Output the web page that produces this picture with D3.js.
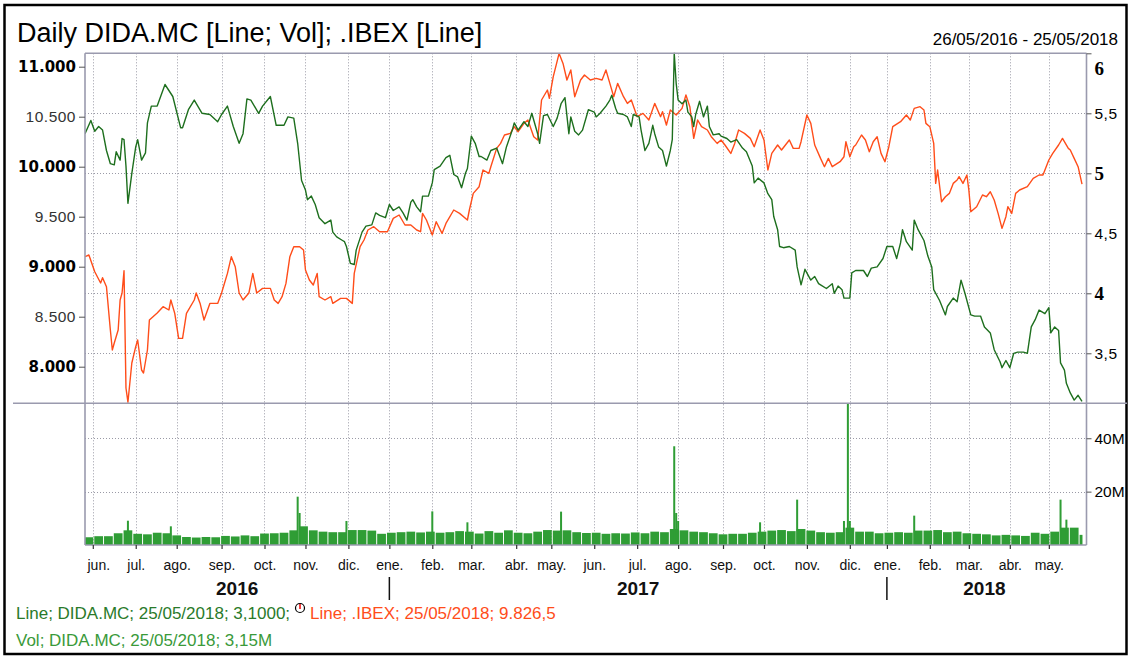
<!DOCTYPE html>
<html>
<head>
<meta charset="utf-8">
<script src="https://cdn.jsdelivr.net/npm/d3@7"></script>
<style>
  body { margin: 0; background: #fff; }
  svg { display: block; }
</style>
</head>
<body>
<svg id="chart"></svg>
<script>
// ---- data (x = trading session number counted from 26/05/2016) ----
const startDate = new Date(2016, 4, 26);
const endDate = new Date(2018, 4, 25);
const holidays = ["2016-12-26", "2017-04-14", "2017-04-17", "2017-05-01", "2017-12-25",
  "2017-12-26", "2018-01-01", "2018-03-30", "2018-04-02", "2018-05-01"];

const monthNames = ["ene.", "feb.", "mar.", "abr.", "may.", "jun.", "jul.", "ago.", "sep.", "oct.", "nov.", "dic."];

// .IBEX close (left axis)
const ibex = [
  [0, 9100], [2, 9117], [5, 8950], [8, 8837], [9, 8890], [11, 8800], [13, 8367], [14, 8167],
  [15, 8237], [17, 8367], [18, 8667], [19, 8737], [20, 8960], [21, 7787], [22, 7645], [24, 8037],
  [26, 8200], [27, 8267], [29, 7967], [30, 7937], [32, 8167], [33, 8467], [37, 8537], [40, 8600],
  [43, 8567], [44, 8667], [46, 8533], [48, 8283], [50, 8283], [52, 8533], [56, 8667], [57, 8737],
  [59, 8633], [61, 8467], [64, 8633], [68, 8633], [70, 8737], [73, 8933], [75, 9100], [77, 9000],
  [79, 8737], [81, 8667], [84, 8737], [86, 8933], [88, 8737], [91, 8783], [95, 8783], [97, 8667],
  [99, 8633], [101, 8700], [103, 8833], [105, 9100], [107, 9200], [110, 9200], [112, 9167], [113, 8967],
  [115, 8867], [117, 8817], [119, 8933], [120, 8700], [123, 8667], [126, 8700], [127, 8633], [131, 8683],
  [134, 8683], [137, 8633], [138, 8933], [141, 9200], [143, 9267], [145, 9367], [148, 9400], [151, 9350],
  [155, 9350], [158, 9483], [161, 9517], [164, 9417], [167, 9417], [170, 9367], [172, 9350], [173, 9533],
  [175, 9467], [178, 9317], [180, 9450], [183, 9333], [185, 9433], [189, 9567], [192, 9533], [196, 9467],
  [197, 9567], [199, 9733], [202, 9800], [204, 9967], [207, 9933], [208, 10000], [211, 10183], [213, 10233],
  [215, 10317], [218, 10333], [220, 10400], [222, 10350], [225, 10433], [227, 10467], [230, 10300], [232, 10267],
  [234, 10667], [237, 10767], [238, 10683], [240, 10900], [243, 11133], [245, 11033], [247, 10867], [249, 10967],
  [251, 10700], [254, 10867], [256, 10917], [259, 10867], [262, 10883], [265, 10867], [267, 10967], [269, 10833],
  [271, 10700], [273, 10833], [276, 10700], [278, 10633], [280, 10667], [283, 10500], [286, 10533], [289, 10467],
  [292, 10633], [295, 10500], [296, 10550], [298, 10417], [300, 10567], [303, 10517], [306, 10583], [308, 10717],
  [310, 10600], [312, 10283], [314, 10467], [316, 10400], [319, 10367], [321, 10300], [324, 10233], [326, 10267],
  [328, 10217], [331, 10133], [333, 10233], [335, 10367], [338, 10333], [341, 10283], [343, 10200], [346, 10367],
  [348, 10267], [350, 9967], [352, 10133], [355, 10217], [357, 10167], [361, 10267], [363, 10183], [366, 10183],
  [367, 10250], [370, 10517], [372, 10433], [374, 10217], [377, 10083], [379, 10000], [381, 10083], [383, 10000],
  [387, 10050], [389, 10100], [390, 10250], [392, 10100], [394, 10200], [395, 10217], [398, 10317], [400, 10267],
  [402, 10150], [404, 10250], [406, 10300], [408, 10133], [410, 10050], [412, 10200], [414, 10400], [418, 10450],
  [421, 10517], [423, 10467], [425, 10583], [428, 10600], [430, 10567], [431, 10433], [433, 10400], [435, 10233],
  [436, 9833], [437, 9967], [439, 9650], [441, 9700], [443, 9733], [445, 9833], [447, 9867], [448, 9900],
  [450, 9833], [452, 9917], [453, 9767], [454, 9550], [457, 9600], [460, 9717], [462, 9700], [464, 9750],
  [466, 9667], [468, 9533], [470, 9383], [472, 9500], [473, 9600], [475, 9533], [477, 9733], [479, 9767],
  [483, 9800], [486, 9883], [489, 9917], [491, 9917], [494, 10067], [496, 10133], [499, 10217], [501, 10283],
  [504, 10183], [505, 10167], [507, 10083], [509, 10000], [511, 9826.5]
];

// DIDA.MC close (right axis)
const dida = [
  [0, 5.33], [3, 5.44], [5, 5.35], [7, 5.39], [9, 5.36], [11, 5.19], [13, 5.08], [15, 5.07],
  [16, 5.18], [18, 5.11], [19, 5.29], [20, 5.28], [21, 5.06], [22, 4.75], [24, 5.0], [26, 5.22],
  [27, 5.28], [29, 5.11], [31, 5.17], [32, 5.42], [34, 5.56], [37, 5.56], [41, 5.74], [45, 5.64],
  [49, 5.38], [50, 5.38], [53, 5.53], [56, 5.61], [60, 5.5], [64, 5.49], [68, 5.43], [70, 5.49],
  [73, 5.56], [76, 5.39], [79, 5.25], [81, 5.33], [83, 5.62], [85, 5.61], [89, 5.5], [91, 5.56],
  [95, 5.64], [98, 5.4], [102, 5.4], [104, 5.47], [107, 5.46], [109, 5.25], [111, 4.94], [113, 4.86],
  [114, 4.78], [116, 4.81], [118, 4.74], [120, 4.63], [123, 4.58], [126, 4.61], [127, 4.51], [129, 4.47],
  [132, 4.44], [133, 4.43], [134, 4.39], [136, 4.25], [138, 4.24], [139, 4.36], [142, 4.51], [144, 4.56],
  [147, 4.57], [149, 4.67], [151, 4.65], [154, 4.63], [156, 4.74], [158, 4.69], [161, 4.72], [163, 4.67],
  [165, 4.61], [167, 4.76], [168, 4.78], [170, 4.72], [172, 4.68], [173, 4.81], [176, 4.81], [178, 4.92],
  [179, 5.03], [182, 5.06], [185, 5.13], [187, 5.15], [189, 4.99], [191, 4.97], [193, 4.88], [195, 5.0],
  [196, 5.04], [198, 5.31], [200, 5.25], [202, 5.14], [203, 5.14], [206, 5.11], [208, 5.19], [211, 5.21],
  [214, 5.08], [216, 5.22], [219, 5.36], [220, 5.42], [222, 5.36], [225, 5.43], [227, 5.39], [229, 5.5],
  [232, 5.33], [233, 5.25], [235, 5.48], [237, 5.49], [240, 5.39], [242, 5.46], [244, 5.58], [246, 5.63],
  [248, 5.33], [249, 5.47], [251, 5.35], [253, 5.32], [255, 5.36], [258, 5.53], [261, 5.51], [262, 5.47],
  [264, 5.5], [267, 5.56], [269, 5.61], [270, 5.65], [272, 5.54], [273, 5.5], [276, 5.49], [278, 5.47],
  [280, 5.39], [281, 5.49], [284, 5.47], [285, 5.36], [287, 5.19], [289, 5.25], [291, 5.4], [292, 5.33],
  [294, 5.22], [296, 5.19], [298, 5.06], [300, 5.19], [301, 5.28], [302, 6.0], [303, 5.75], [304, 5.61],
  [306, 5.58], [308, 5.61], [309, 5.51], [311, 5.47], [312, 5.39], [313, 5.49], [315, 5.6], [317, 5.47],
  [319, 5.56], [320, 5.39], [322, 5.32], [325, 5.33], [326, 5.31], [329, 5.29], [331, 5.26], [334, 5.28],
  [337, 5.21], [339, 5.18], [342, 5.06], [343, 4.92], [345, 4.96], [348, 4.92], [350, 4.83], [352, 4.78],
  [353, 4.64], [355, 4.53], [356, 4.39], [358, 4.38], [361, 4.39], [364, 4.36], [365, 4.22], [367, 4.07],
  [369, 4.2], [372, 4.11], [374, 4.14], [376, 4.08], [377, 4.07], [380, 4.04], [383, 4.08], [384, 4.0],
  [386, 4.06], [388, 4.03], [389, 3.96], [392, 3.96], [393, 4.17], [395, 4.19], [399, 4.19], [401, 4.14],
  [403, 4.21], [406, 4.22], [409, 4.29], [411, 4.39], [414, 4.39], [416, 4.29], [418, 4.42], [419, 4.53],
  [421, 4.43], [424, 4.36], [425, 4.61], [427, 4.53], [430, 4.44], [432, 4.31], [434, 4.22], [435, 4.03],
  [438, 3.94], [441, 3.82], [442, 3.89], [445, 3.96], [447, 3.93], [449, 4.11], [451, 4.0], [454, 3.82],
  [456, 3.81], [459, 3.81], [461, 3.72], [464, 3.67], [466, 3.53], [469, 3.43], [470, 3.38], [472, 3.44],
  [474, 3.38], [476, 3.5], [478, 3.51], [481, 3.51], [483, 3.5], [485, 3.72], [487, 3.78], [489, 3.86],
  [492, 3.83], [494, 3.88], [495, 3.67], [497, 3.72], [499, 3.69], [500, 3.42], [502, 3.36], [503, 3.25],
  [505, 3.17], [507, 3.11], [509, 3.15], [511, 3.10]
];

// DIDA.MC volume, millions, one value per block of 5 sessions
const volBlock = [
  2.9, 3.3, 3.3, 4.4, 5.5, 4.2, 4.0, 4.6, 4.4, 3.6, 3.0, 2.8, 3.0, 2.9, 3.4, 3.2, 3.6, 3.3, 4.3, 4.4,
  4.6, 5.5, 7.0, 5.5, 5.0, 4.8, 4.8, 5.6, 5.6, 5.4, 4.2, 4.6, 4.8, 5.0, 4.7, 5.0, 4.6, 4.8, 5.2, 5.0,
  4.3, 5.2, 4.6, 5.5, 4.6, 4.4, 5.0, 5.6, 5.4, 5.5, 4.8, 4.5, 4.6, 4.2, 4.4, 4.3, 4.7, 4.4, 5.0, 4.8,
  6.0, 5.5, 5.0, 4.8, 4.4, 4.0, 4.2, 4.2, 4.6, 5.0, 5.4, 5.6, 5.2, 6.0, 5.4, 4.8, 4.6, 4.8, 6.5, 5.0,
  5.0, 4.4, 4.6, 4.8, 4.6, 5.4, 5.4, 5.6, 4.8, 5.0, 4.4, 4.2, 4.0, 3.6, 3.8, 3.6, 3.4, 4.6, 4.2, 5.0,
  6.5, 6.5, 3.8
];
// single sessions with high volume, [session, millions]
const volPeaks = [
  [22, 9.1], [44, 7.0], [109, 18.1], [110, 12.0], [134, 9.0], [178, 12.6], [196, 8.5], [244, 12.5],
  [302, 37.0], [303, 12.0], [304, 9.0], [346, 8.5], [365, 17.0], [389, 9.0], [391, 60.0], [392, 9.0],
  [425, 11.0], [500, 17.0], [503, 9.5]
];

const leftTicks = [8000, 8500, 9000, 9500, 10000, 10500, 11000];
const rightTicks = [3.5, 4, 4.5, 5, 5.5, 6];
const volTicks = [20, 40];

// ---- layout ----
const W = 1131, H = 658;
const xL = 85, xR = 1086.5;
const yTop = 53.3, ySep = 403.3, yBot = 545;

const svg = d3.select("#chart").attr("width", W).attr("height", H)
  .style("font-family", "'Liberation Sans', Arial, sans-serif");

const es = d3.formatLocale({ decimal: ",", thousands: ".", grouping: [3], currency: ["", "€"] });

// trading calendar
const fmtDay = d3.timeFormat("%Y-%m-%d");
const sessions = d3.timeDays(startDate, d3.timeDay.offset(endDate, 1))
  .filter(d => d.getDay() % 6 !== 0 && !holidays.includes(fmtDay(d)));
const monthStarts = sessions.map((d, i) => i).filter(i => i > 0 && sessions[i].getMonth() !== sessions[i - 1].getMonth());
const yearStarts = monthStarts.filter(i => sessions[i].getMonth() === 0);

const x = d3.scaleLinear().domain([0, sessions.length - 1]).range([85, 1082]);
const yLeft = d3.scaleLinear().domain([7634, 11134]).range([ySep, yTop]);
const yRight = d3.scaleLinear().domain([3.0833, 6.0]).range([ySep, yTop]);
const yVol = d3.scaleLinear().domain([0, 53.1]).range([yBot, ySep]);

const gridColor = "#9a9aa6";
const axisColor = "#9a9aae";

// outer frame
svg.append("rect").attr("x", 4.5).attr("y", 5).attr("width", 1122).attr("height", 649)
  .attr("fill", "none").attr("stroke", "#000").attr("stroke-width", 2.5);

// title + range
svg.append("text").attr("x", 17).attr("y", 42).attr("font-size", 27).attr("fill", "#000")
  .text("Daily DIDA.MC [Line; Vol]; .IBEX [Line]");
svg.append("text").attr("x", 1118).attr("y", 45).attr("text-anchor", "end").attr("font-size", 17)
  .attr("fill", "#000").text("26/05/2016 - 25/05/2018");

// grid
const grid = svg.append("g").attr("stroke", gridColor).attr("stroke-width", 1)
  .attr("stroke-dasharray", "1,2").attr("fill", "none");
grid.selectAll(".gx").data(monthStarts).join("line")
  .attr("x1", d => Math.round(x(d)) + 0.5).attr("x2", d => Math.round(x(d)) + 0.5)
  .attr("y1", yTop).attr("y2", yBot);
grid.selectAll(".gy").data(rightTicks.filter(v => v < 6)).join("line")
  .attr("x1", xL).attr("x2", xR)
  .attr("y1", d => Math.round(yRight(d)) + 0.5).attr("y2", d => Math.round(yRight(d)) + 0.5);
grid.selectAll(".gv").data(volTicks).join("line")
  .attr("x1", xL).attr("x2", xR)
  .attr("y1", d => Math.round(yVol(d)) + 0.5).attr("y2", d => Math.round(yVol(d)) + 0.5);

// volume bars
svg.append("clipPath").attr("id", "clipVol").append("rect")
  .attr("x", xL).attr("y", ySep).attr("width", xR - xL).attr("height", yBot - ySep);
const step = x(1) - x(0);
const vol = svg.append("g").attr("clip-path", "url(#clipVol)");
vol.selectAll(".vb").data(volBlock).join("rect")
  .attr("x", (d, i) => x(i * 5) - step / 2 + 0.5)
  .attr("width", (d, i) => Math.max(1, Math.min(5, sessions.length - i * 5) * step - 1))
  .attr("y", d => yVol(d)).attr("height", d => yBot - yVol(d))
  .attr("fill", "#2f9d35");
vol.selectAll(".vp").data(volPeaks).join("rect")
  .attr("x", d => x(d[0]) - 1).attr("width", 2)
  .attr("y", d => yVol(d[1])).attr("height", d => yBot - yVol(d[1]))
  .attr("fill", "#2f9d35");

// price lines
svg.append("clipPath").attr("id", "clipPrice").append("rect")
  .attr("x", xL).attr("y", yTop - 1).attr("width", xR - xL).attr("height", ySep - yTop + 1);
const lines = svg.append("g").attr("clip-path", "url(#clipPrice)").attr("fill", "none")
  .attr("stroke-width", 1.4).attr("stroke-linejoin", "round");
lines.append("path").datum(ibex).attr("stroke", "#ff4d1a")
  .attr("d", d3.line().x(d => x(d[0])).y(d => yLeft(d[1])));
lines.append("path").datum(dida).attr("stroke", "#1e6f1e")
  .attr("d", d3.line().x(d => x(d[0])).y(d => yRight(d[1])));

// frame lines
const frame = svg.append("g").attr("stroke", axisColor).attr("stroke-width", 1.6);
frame.append("line").attr("x1", xL).attr("x2", xR).attr("y1", yTop).attr("y2", yTop);
frame.append("line").attr("x1", xL).attr("x2", xL).attr("y1", yTop).attr("y2", yBot);
frame.append("line").attr("x1", xR).attr("x2", xR).attr("y1", yTop).attr("y2", yBot);
frame.append("line").attr("x1", 13).attr("x2", 1127).attr("y1", ySep).attr("y2", ySep);
frame.append("line").attr("x1", xL).attr("x2", xR).attr("y1", yBot).attr("y2", yBot);

// left axis
const leftAxis = svg.append("g").attr("transform", `translate(${xL},0)`)
  .call(d3.axisLeft(yLeft).tickValues(leftTicks).tickSize(6).tickPadding(3).tickFormat(es.format(",.0f")));
leftAxis.select(".domain").remove();
leftAxis.selectAll(".tick line").attr("stroke", "#555");
leftAxis.selectAll(".tick text")
  .attr("fill", (d, i) => i % 2 === 0 ? "#000" : "#333")
  .style("font-family", (d, i) => i % 2 === 0 ? "'DejaVu Sans', Verdana, sans-serif" : "'Liberation Sans', Arial, sans-serif")
  .style("font-weight", (d, i) => i % 2 === 0 ? "bold" : "normal")
  .style("font-size", (d, i) => i % 2 === 0 ? "15px" : "15.5px")
  .style("letter-spacing", (d, i) => i % 2 === 0 ? "0px" : "0.5px");

// right axis
const rightAxis = svg.append("g").attr("transform", `translate(${xR},0)`)
  .call(d3.axisRight(yRight).tickValues(rightTicks).tickSize(5).tickPadding(3).tickFormat(es.format(",.1~f")));
rightAxis.select(".domain").remove();
rightAxis.selectAll(".tick line").attr("stroke", "#555");
rightAxis.selectAll(".tick text")
  .attr("fill", "#000")
  .attr("dy", d => d === 6 ? "1.1em" : "0.32em")
  .style("font-family", d => Number.isInteger(d) ? "'Liberation Serif', 'Times New Roman', serif" : "'Liberation Sans', Arial, sans-serif")
  .style("font-weight", d => Number.isInteger(d) ? "bold" : "normal")
  .style("font-size", d => Number.isInteger(d) ? "19px" : "15.5px")
  .style("letter-spacing", d => Number.isInteger(d) ? "0px" : "0.5px");

// volume axis
const volAxis = svg.append("g").attr("transform", `translate(${xR},0)`)
  .call(d3.axisRight(yVol).tickValues(volTicks).tickSize(5).tickPadding(3).tickFormat(d => d + "M"));
volAxis.select(".domain").remove();
volAxis.selectAll(".tick line").attr("stroke", "#555");
volAxis.selectAll(".tick text").attr("fill", "#000").style("font-size", "15.5px");

// month axis
const monthAxis = svg.append("g").attr("transform", `translate(0,${yBot})`)
  .call(d3.axisBottom(x).tickValues(monthStarts).tickSize(4).tickPadding(11)
    .tickFormat(i => monthNames[sessions[i].getMonth()]));
monthAxis.select(".domain").remove();
monthAxis.selectAll(".tick line").attr("stroke", "#333").attr("stroke-width", 1.2);
monthAxis.selectAll(".tick text").attr("fill", "#111").style("font-size", "14px");
// first month label must stay inside the plot
monthAxis.selectAll(".tick text").filter(i => i === monthStarts[0])
  .attr("text-anchor", "start").attr("x", xL + 2 - x(monthStarts[0]));

// years
const yearBounds = [0].concat(yearStarts, [sessions.length - 1]);
const years = d3.range(yearBounds.length - 1).map(k => ({
  year: sessions[yearBounds[k]].getFullYear(),
  mid: (x(yearBounds[k]) + x(yearBounds[k + 1])) / 2
}));
svg.selectAll(".year").data(years).join("text")
  .attr("x", d => d.mid).attr("y", 595).attr("text-anchor", "middle")
  .style("font-family", "'Liberation Sans Narrow', 'Arial Narrow', 'Liberation Sans', sans-serif")
  .style("font-weight", "bold").style("font-size", "19px").attr("fill", "#111")
  .text(d => d.year);
svg.selectAll(".ysep").data(yearStarts).join("line")
  .attr("x1", d => x(d)).attr("x2", d => x(d)).attr("y1", 577).attr("y2", 600)
  .attr("stroke", "#111").attr("stroke-width", 1.5);

// legend
const lastIbex = ibex[ibex.length - 1];
const lastDida = dida[dida.length - 1];
const lastDay = d3.timeFormat("%d/%m/%Y")(sessions[sessions.length - 1]);
const lastVol = 3.15;
svg.append("text").attr("x", 16).attr("y", 619).style("font-size", "17px").attr("fill", "#2a7a2a")
  .text(`Line; DIDA.MC; ${lastDay}; ${es.format(",.4f")(lastDida[1])}; `);
svg.append("circle").attr("cx", 300).attr("cy", 608).attr("r", 4.5)
  .attr("fill", "none").attr("stroke", "#000").attr("stroke-width", 1.2);
svg.append("line").attr("x1", 300).attr("x2", 300).attr("y1", 604).attr("y2", 609)
  .attr("stroke", "#e00").attr("stroke-width", 1.5);
svg.append("text").attr("x", 310).attr("y", 619).style("font-size", "17px").attr("fill", "#ff4d1a")
  .text(`Line; .IBEX; ${lastDay}; ${es.format(",.1f")(lastIbex[1])}`);
svg.append("text").attr("x", 16).attr("y", 646).style("font-size", "17px").attr("fill", "#3a9a3a")
  .text(`Vol; DIDA.MC; ${lastDay}; ${es.format(",.2f")(lastVol)}M`);
</script>
</body>
</html>
